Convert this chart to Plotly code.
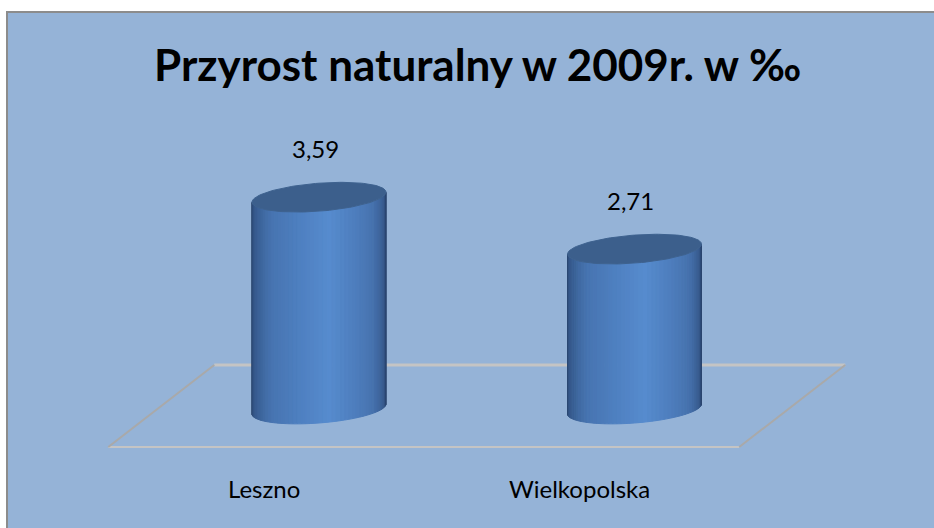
import numpy as np
import plotly.graph_objects as go

# ---- data ----
categories = ["Leszno", "Wielkopolska"]
values = [3.59, 2.71]
value_labels = ["3,59", "2,71"]
title_text = "Przyrost naturalny w 2009r. w ‰"

# ---- geometry / style ----
W, H = 934, 528
PX_X = 315.5      # pixels per category step
PX_Y = 59.0       # pixels per value unit
X0_PX = 319       # pixel x of first category
Y0_PX = 409       # pixel y of value 0
x_range = [-X0_PX / PX_X, (W - X0_PX) / PX_X]
y_range = [-(H - Y0_PX) / PX_Y, Y0_PX / PX_Y]

R = 67 / PX_X     # cylinder radius (x units)
B = 14 / PX_Y     # ellipse half-height (y units)
K = 5 / PX_Y      # ellipse tilt (right side higher)
N_STRIPS = 48

FONT = "Lato"
BG = "#95B3D7"

stops = [
    (0.00, (34, 58, 95)),
    (0.08, (52, 86, 135)),
    (0.25, (70, 115, 176)),
    (0.55, (86, 139, 206)),
    (0.80, (70, 114, 174)),
    (0.93, (54, 88, 138)),
    (1.00, (40, 66, 106)),
]


def shade(u):
    for (u0, c0), (u1, c1) in zip(stops[:-1], stops[1:]):
        if u0 <= u <= u1:
            t = (u - u0) / (u1 - u0) if u1 > u0 else 0
            c = [round(a + (b - a) * t) for a, b in zip(c0, c1)]
            return "rgb(%d,%d,%d)" % tuple(c)
    return "rgb(%d,%d,%d)" % stops[-1][1]


def front(theta):
    return -B * np.sin(theta) - K * np.cos(theta)


fig = go.Figure()

for i, v in enumerate(values):
    cx = i
    thetas = np.linspace(0, np.pi, N_STRIPS + 1)
    for a, b in zip(thetas[:-1], thetas[1:]):
        sub = np.linspace(a, b, 4)
        xs_bot = list(cx - R * np.cos(sub))
        ys_bot = list(front(sub))
        xs_top = list(cx - R * np.cos(sub[::-1]))
        ys_top = list(v + front(sub[::-1]))
        col = shade(((a + b) / 2) / np.pi)
        fig.add_trace(go.Scatter(
            x=xs_bot + xs_top + [xs_bot[0]],
            y=ys_bot + ys_top + [ys_bot[0]],
            mode="lines", fill="toself", fillcolor=col,
            line=dict(color=col, width=1), hoverinfo="skip", showlegend=False))
    th = np.linspace(0, 2 * np.pi, 121)
    fig.add_trace(go.Scatter(
        x=cx - R * np.cos(th), y=v - B * np.sin(th) - K * np.cos(th),
        mode="lines", fill="toself", fillcolor="#3C5F8C",
        line=dict(color="#3E628F", width=1), hoverinfo="skip", showlegend=False))

annotations = []
for i, (v, lab) in enumerate(zip(values, value_labels)):
    annotations.append(dict(x=i, y=v, xref="x", yref="y", text=lab, showarrow=False,
                            xshift=-4, yshift=49,
                            font=dict(family=FONT, size=24, color="#000000")))
for i, c in enumerate(categories):
    annotations.append(dict(x=i, y=0, xref="x", yref="y", text=c, showarrow=False,
                            xshift=-55, yshift=-79,
                            font=dict(family=FONT, size=24, color="#000000")))
annotations.append(dict(x=477 / W, y=1 - 64 / H, xref="paper", yref="paper",
                        text=title_text, showarrow=False, xanchor="center", yanchor="middle",
                        font=dict(family=FONT, size=44, color="#000000", weight="bold")))

# floor (in data coordinates around the categories)
n = len(categories)
fx0, fx1 = -0.5, n - 0.5
shear = 53 / PX_X
yb, yf = 44 / PX_Y, -38 / PX_Y
shapes = [
    dict(type="rect", xref="paper", yref="paper", x0=7 / W, x1=1.01, y0=-0.01, y1=1 - 12 / H,
         fillcolor=BG, line=dict(color="#8C8C8C", width=2), layer="below"),
    dict(type="line", xref="x", yref="y", x0=fx0 + shear, x1=fx1 + shear, y0=yb, y1=yb,
         line=dict(color="#C4C4C4", width=3), layer="below"),
    dict(type="line", xref="x", yref="y", x0=fx0 - shear, x1=fx1 - shear, y0=yf, y1=yf,
         line=dict(color="#C4C4C4", width=2), layer="below"),
    dict(type="line", xref="x", yref="y", x0=fx0 - shear, x1=fx0 + shear, y0=yf, y1=yb,
         line=dict(color="#A9A9A9", width=2), layer="below"),
    dict(type="line", xref="x", yref="y", x0=fx1 - shear, x1=fx1 + shear, y0=yf, y1=yb,
         line=dict(color="#A9A9A9", width=2), layer="below"),
]

fig.update_layout(
    width=W, height=H,
    margin=dict(l=0, r=0, t=0, b=0),
    paper_bgcolor="#FFFFFF", plot_bgcolor="rgba(0,0,0,0)",
    xaxis=dict(range=x_range, visible=False, fixedrange=True),
    yaxis=dict(range=y_range, visible=False, fixedrange=True),
    showlegend=False, hovermode=False,
    annotations=annotations, shapes=shapes,
)

fig.write_html("out.html", config={"displayModeBar": False},
               post_script="document.body.style.margin='0';")
